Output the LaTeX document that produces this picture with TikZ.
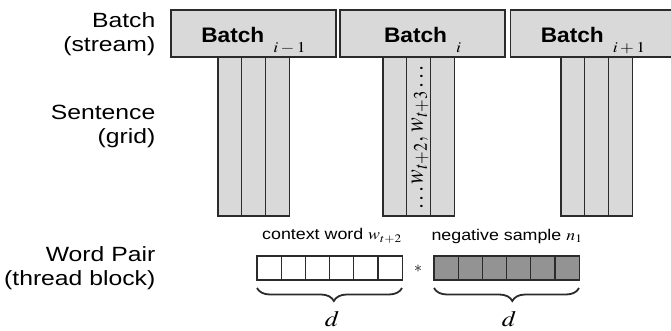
\documentclass[tikz,border=0pt]{standalone}
\usepackage{mathptmx}
\usepackage{graphicx}
\usepackage{fontspec}
\setmainfont{Liberation Sans}
\usetikzlibrary{decorations.pathreplacing}

\definecolor{cellgray}{HTML}{D9D9D9}
\definecolor{darkcell}{HTML}{939393}
\definecolor{edgegray}{HTML}{2B2B2B}

% the figure is a bit wider than its letters
\newcommand{\hstretch}[2]{\scalebox{#1}[1]{#2}}
\newcommand{\batchtitle}[1]{\hstretch{1.08}{Batch}\hspace{9pt}\smash{\raisebox{-10pt}{\fontsize{15}{15}\selectfont\hstretch{1.18}{$#1$}}}}
\newcommand{\levelname}[2]{\hstretch{1.2}{\begin{tabular}{@{}r@{}}#1\\#2\end{tabular}}}

\tikzset{
    batchbox/.style={draw=edgegray, fill=cellgray, line width=1.2pt, inner sep=0pt,
        minimum width=165pt, minimum height=47pt, text height=20pt, text depth=2.4pt,
        font=\fontsize{21}{24}\selectfont\bfseries},
    colbox/.style={draw=edgegray, fill=cellgray, line width=1.2pt},
    cellbox/.style={draw=edgegray, line width=1.2pt},
    levellabel/.style={anchor=east, inner sep=0pt, font=\fontsize{20.6}{24}\selectfont},
    veclabel/.style={font=\fontsize{15.5}{18}\selectfont},
    dimbrace/.style={decorate, decoration={brace, mirror, amplitude=13pt, aspect=#1}, line width=1.8pt, edgegray},
    dimlabel/.style={font=\fontsize{22}{22}\selectfont},
}

\begin{document}
\begin{tikzpicture}[x=1pt, y=-1pt]
    \useasboundingbox (0,0) rectangle (671,331);
    \clip (0,0) rectangle (671,331);

    % level names
    \node[levellabel] (lvlbatch) at (155.5,34.5) {\levelname{Batch}{(stream)}};
    \node[levellabel] (lvlsent) at (155.5,127.2) {\levelname{Sentence}{(grid)}};
    \node[levellabel] (lvlpair) at (155.5,268.2) {\levelname{Word Pair}{(thread block)}};

    % sentences of every batch
    \foreach \x in {218,383,561} {
    \foreach \k in {0,1,2}
        \filldraw[colbox] (\x+\k*23.8,57) rectangle (\x+\k*23.8+23.8,216);
    }
    \node[rotate=90, inner sep=0pt, font=\fontsize{22}{22}\selectfont] (seq) at (420,137.5)
        {\scalebox{1}[1.18]{$\ldots w_{t+2},\, w_{t+3} \ldots$}};

    % batches
    \node[batchbox] (bprev) at (253.5,33.5) {\batchtitle{i-1}};
    \node[batchbox] (bcur) at (422.5,33.5) {\batchtitle{i}};
    \node[batchbox] (bnext) at (593,33.5) {\batchtitle{i+1}};

    % word pair
    \foreach \k in {0,...,5} {
        \filldraw[cellbox, fill=white] (257+\k*24.2,256) rectangle (257+\k*24.2+24.2,280);
        \filldraw[cellbox, fill=darkcell] (434+\k*24.2,256) rectangle (434+\k*24.2+24.2,280);
    }
    \node[veclabel] (ctx) at (332,236) {\hstretch{1.15}{context word $w_{t+2}$}};
    \node[veclabel] (neg) at (507,236) {\hstretch{1.15}{negative sample $n_1$}};
    \node[font=\fontsize{16}{16}\selectfont] (times) at (418,269) {$\ast$};

    \coordinate (ctxl) at (257,288);
    \coordinate (ctxr) at (402,288);
    \coordinate (negl) at (434,288);
    \coordinate (negr) at (579,288);
    \draw[dimbrace=0.53] (ctxl) -- (ctxr);
    \draw[dimbrace=0.54] (negl) -- (negr);
    \node[dimlabel] (dctx) at (332,319) {\hstretch{1.18}{$d$}};
    \node[dimlabel] (dneg) at (509,319) {\hstretch{1.18}{$d$}};
\end{tikzpicture}
\end{document}
